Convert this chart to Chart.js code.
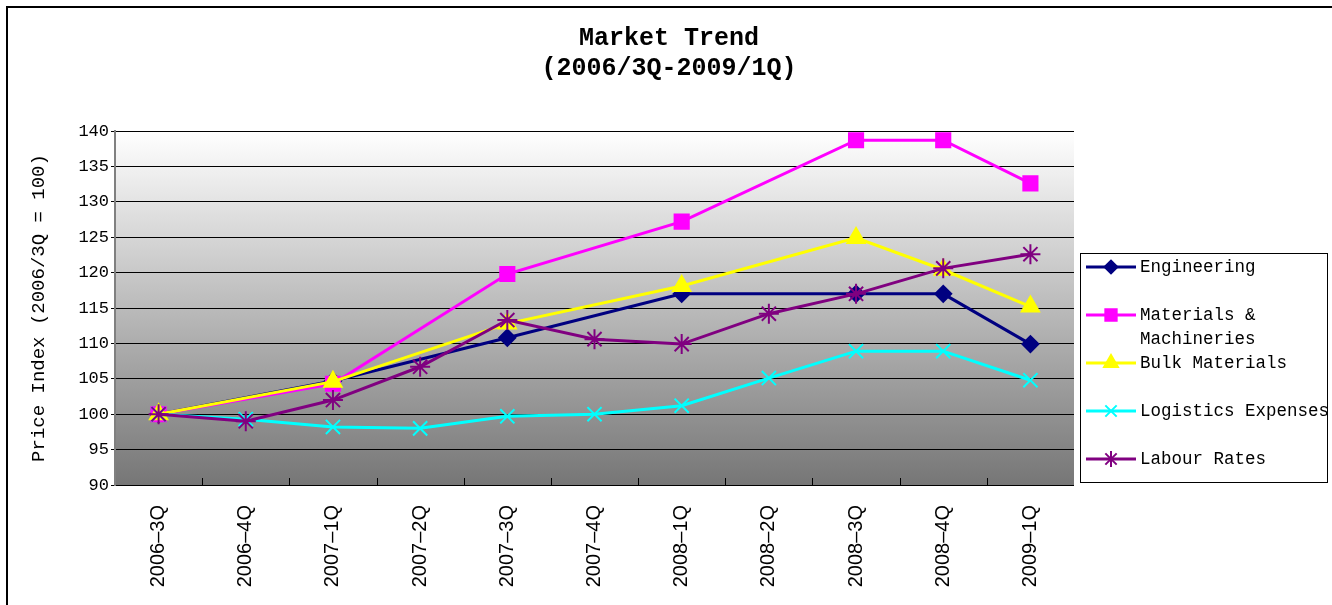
<!DOCTYPE html>
<html>
<head>
<meta charset="utf-8">
<script src="https://cdn.jsdelivr.net/npm/chart.js@4"></script>
<style>
    body { margin: 0; background: #fff; overflow: hidden; }
    #frame { position: absolute; left: 6px; top: 6px; width: 1400px; height: 700px; border: 2px solid #000; box-sizing: border-box; }
    #chart { position: absolute; left: 0; top: 0; }
</style>
</head>
<body>
<div id="frame"></div>
<canvas id="chart" width="1332" height="605"></canvas>
<script>
const quarters = ['2006–3Q', '2006–4Q', '2007–1Q', '2007–2Q', '2007–3Q', '2007–4Q', '2008–1Q', '2008–2Q', '2008–3Q', '2008–4Q', '2009–1Q'];

const engineering = [100, null, 104.7, null, 110.8, null, 117.0, null, 117.0, 117.0, 109.9];
const materials   = [100, null, 104.3, null, 119.8, null, 127.2, null, 138.7, 138.7, 132.6];
const bulk        = [100, null, 104.6, null, 112.8, null, 118.1, null, 124.9, 120.4, 115.2];
const logistics   = [100, 99.3, 98.2, 98.0, 99.7, 100.0, 101.2, 105.1, 108.9, 108.9, 104.8];
const labour      = [100, 99.0, 102.0, 106.7, 113.3, 110.6, 109.9, 114.2, 117.0, 120.6, 122.6];

const seriesNames = ['Engineering', 'Materials & Machineries', 'Bulk Materials', 'Logistics Expenses', 'Labour Rates'];
const legendLines = [['Engineering'], ['Materials &', 'Machineries'], ['Bulk Materials'], ['Logistics Expenses'], ['Labour Rates']];
const titleLines = ['Market Trend', '(2006/3Q-2009/1Q)'];

const yMin = 90, yMax = 140, yStep = 5;

function makeSet(label, data, color, style, radius, order){
    return {
        label: label,
        data: data,
        order: order,
        borderColor: color,
        backgroundColor: color,
        borderWidth: 3,
        pointStyle: style,
        pointRadius: radius,
        pointHoverRadius: radius,
        pointBorderWidth: 2,
        spanGaps: true,
        tension: 0
    };
}

// plot background gradient, bottom ticks and the title
const plotBg = {
    id: 'plotBg',
    beforeDraw(chart){
        const a = chart.chartArea, ctx = chart.ctx;
        const g = ctx.createLinearGradient(0, a.top, 0, a.bottom);
        g.addColorStop(0, '#ffffff');
        g.addColorStop(1, '#767676');
        ctx.save();
        ctx.fillStyle = g;
        ctx.fillRect(a.left, a.top, a.right - a.left, a.bottom - a.top);

        ctx.fillStyle = '#000';
        ctx.font = 'bold 25px "Liberation Mono", monospace';
        ctx.textAlign = 'center';
        ctx.textBaseline = 'middle';
        titleLines.forEach(function(t, i){
            ctx.fillText(t, 669, 39 + i * 30);
        });
        ctx.restore();
    },
    afterDatasetsDraw(chart){
        const a = chart.chartArea, ctx = chart.ctx, x = chart.scales.x;
        const w = (a.right - a.left) / quarters.length;
        ctx.save();
        ctx.strokeStyle = '#000';
        ctx.lineWidth = 1;
        for(let i = 1; i < quarters.length; i++){
            const px = Math.round(x.getPixelForValue(i) - w / 2) + 0.5;
            ctx.beginPath();
            ctx.moveTo(px, a.bottom);
            ctx.lineTo(px, a.bottom - 7);
            ctx.stroke();
        }
        ctx.restore();
    }
};

// excel style boxed legend on the right
const boxLegend = {
    id: 'boxLegend',
    afterDraw(chart){
        const ctx = chart.ctx;
        const box = {x: 1080.5, y: 253.5, w: 247, h: 229};
        const rows = [267, 315, 363, 411, 459];
        ctx.save();
        ctx.fillStyle = '#fff';
        ctx.fillRect(box.x, box.y, box.w, box.h);
        ctx.strokeStyle = '#000';
        ctx.lineWidth = 1;
        ctx.strokeRect(box.x, box.y, box.w, box.h);
        chart.data.datasets.forEach(function(ds, i){
            const y = rows[i];
            ctx.strokeStyle = ds.borderColor;
            ctx.lineWidth = 3;
            ctx.beginPath();
            ctx.moveTo(1086, y);
            ctx.lineTo(1136, y);
            ctx.stroke();
            ctx.fillStyle = ds.backgroundColor;
            ctx.lineWidth = 2;
            Chart.helpers.drawPoint(ctx, {pointStyle: ds.pointStyle, radius: ds.pointRadius * 0.8, rotation: 0, borderWidth: 2}, 1111, y);
            ctx.fillStyle = '#000';
            ctx.font = '17.5px "Liberation Mono", monospace';
            ctx.textBaseline = 'middle';
            legendLines[i].forEach(function(t, k){
                ctx.fillText(t, 1140, y + k * 24);
            });
        });
        ctx.restore();
    }
};

const data = {
    labels: quarters,
    datasets: [
        makeSet(seriesNames[0], engineering, '#000080', 'rectRot', 8, 4),
        makeSet(seriesNames[1], materials, '#ff00ff', 'rect', 10, 3),
        makeSet(seriesNames[2], bulk, '#ffff00', 'triangle', 10, 2),
        makeSet(seriesNames[3], logistics, '#00ffff', 'crossRot', 10, 1),
        makeSet(seriesNames[4], labour, '#800080', 'star', 10, 0)
    ]
};

const config = {
    type: 'line',
    data: data,
    plugins: [plotBg, boxLegend],
    options: {
        responsive: false,
        animation: false,
        layout: {
            padding: {left: 28, right: 258, top: 131, bottom: 0}
        },
        plugins: {
            legend: {display: false},
            tooltip: {enabled: false},
            title: {display: false}
        },
        scales: {
            x: {
                offset: true,
                grid: {display: false, drawTicks: false},
                border: {display: false},
                ticks: {
                    minRotation: 90,
                    maxRotation: 90,
                    padding: 20,
                    color: '#000',
                    font: {family: '"Liberation Sans", Arial, sans-serif', size: 20}
                },
                afterFit(scale){ scale.height = 120; }
            },
            y: {
                min: yMin,
                max: yMax,
                ticks: {
                    stepSize: yStep,
                    padding: 2,
                    color: '#000',
                    font: {family: '"Liberation Mono", monospace', size: 17}
                },
                grid: {color: '#000', lineWidth: 1, tickLength: 4, tickColor: '#000'},
                border: {display: true, color: '#808080', width: 2},
                title: {
                    display: true,
                    text: 'Price Index (2006/3Q = 100)',
                    color: '#000',
                    font: {family: '"Liberation Mono", monospace', size: 19},
                    padding: {top: 0, bottom: 0}
                },
                afterFit(scale){ scale.width = 87; }
            }
        }
    }
};

document.addEventListener("DOMContentLoaded", function(){
    new Chart(document.getElementById('chart'), config);
});
</script>
</body>
</html>
